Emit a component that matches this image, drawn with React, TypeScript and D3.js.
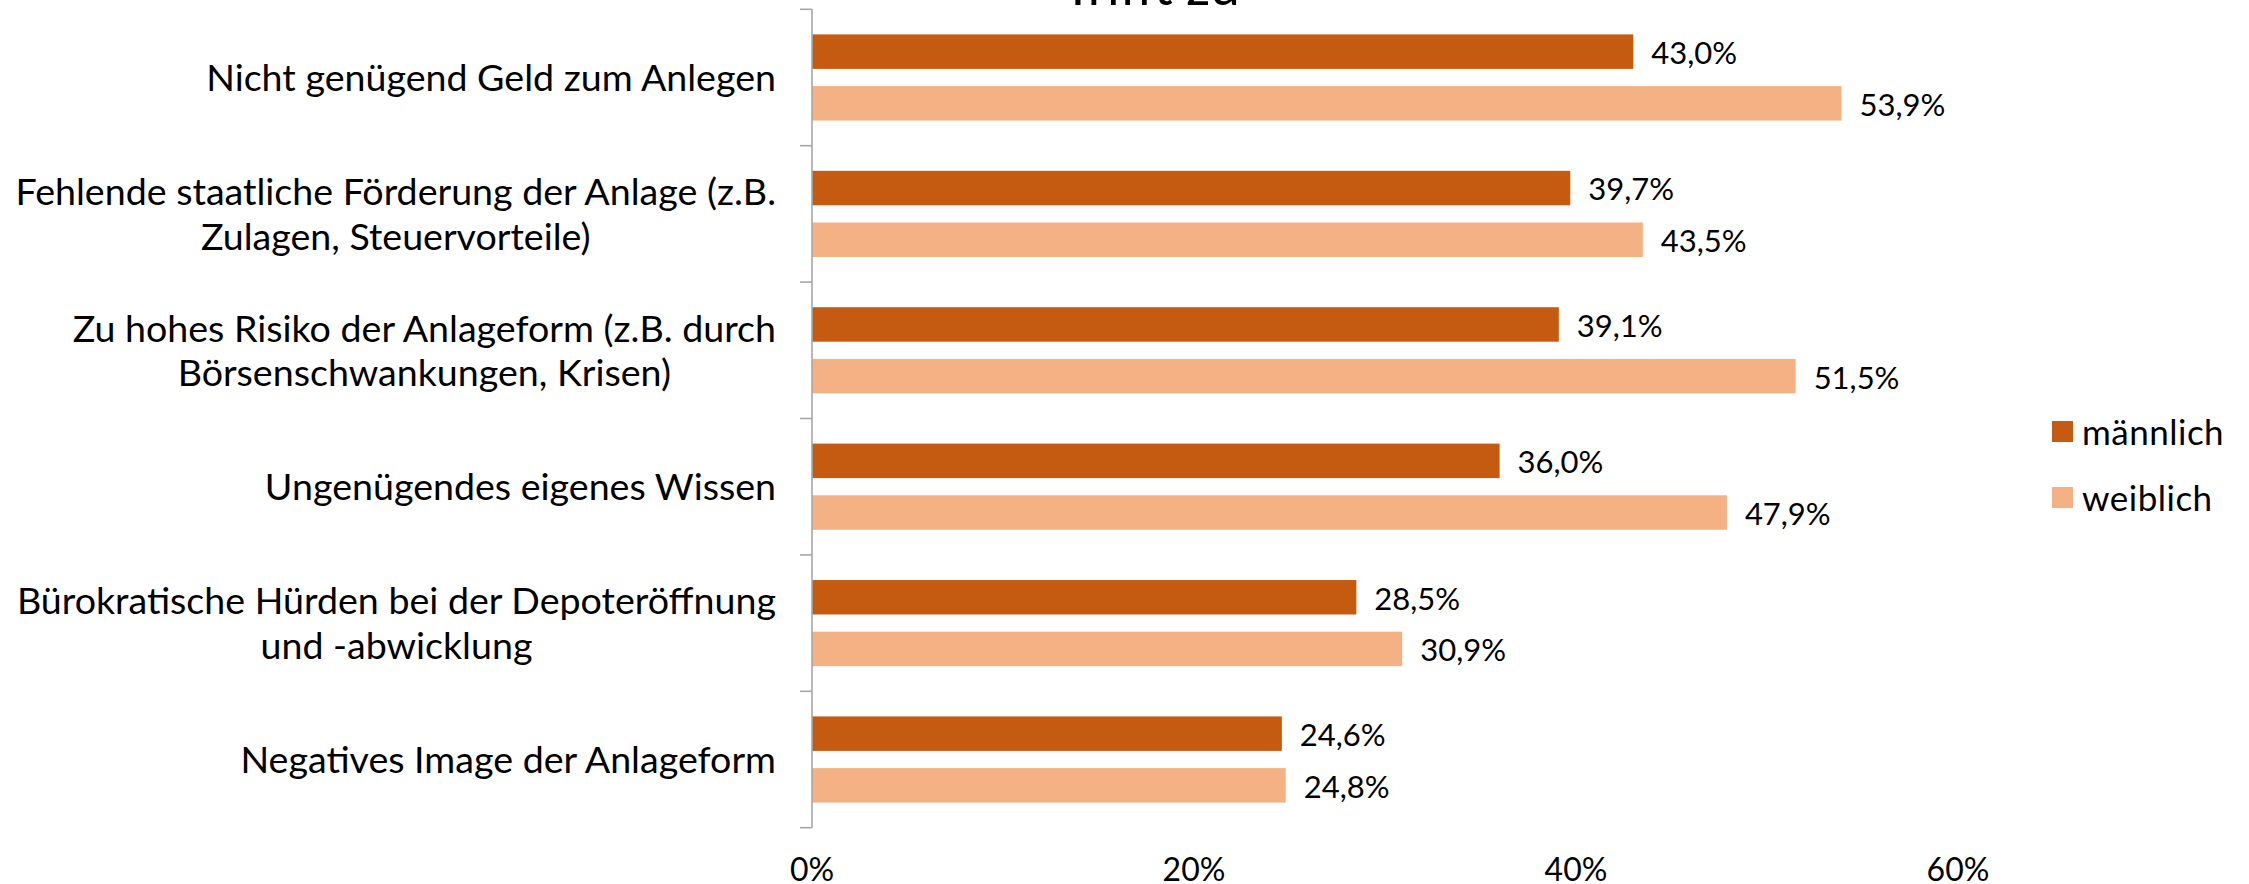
import * as d3 from "d3"
import { useEffect, useRef } from "react"

// chart data
const categories = [
	["Nicht genügend Geld zum Anlegen"],
	["Fehlende staatliche Förderung der Anlage (z.B.", "Zulagen, Steuervorteile)"],
	["Zu hohes Risiko der Anlageform (z.B. durch", "Börsenschwankungen, Krisen)"],
	["Ungenügendes eigenes Wissen"],
	["Bürokratische Hürden bei der Depoteröffnung", "und -abwicklung"],
	["Negatives Image der Anlageform"],
]
const maennlich = [43.0, 39.7, 39.1, 36.0, 28.5, 24.6]
const weiblich = [53.9, 43.5, 51.5, 47.9, 30.9, 24.8]
const seriesNames = ["männlich", "weiblich"]
const xTicks = [0, 20, 40, 60]
const title = "Trifft zu"

const colors = ["#C55A11", "#F4B183"]
const font = "Lato, 'Open Sans', sans-serif"

export default function App() {
	const svgRef = useRef<SVGSVGElement>(null)

	useEffect(() => {
		const svg = d3.select(svgRef.current)
		svg.selectAll("*").remove()

		const width = 2249
		const height = 884
		const axisX = 812

		const x = d3.scaleLinear().domain([0, 60]).range([axisX, 1958])
		const keys = categories.map((c, i) => String(i))
		const y = d3.scaleBand().domain(keys).range([9.3, 827.7]).padding(0)
		const ySub = d3.scaleBand().domain(["0", "1"]).range([0, y.bandwidth()])
			.paddingInner(0.333).paddingOuter(0.486)

		svg.attr("width", width).attr("height", height)

		// title (cut off at the top)
		svg.append("text")
			.attr("x", 1151)
			.attr("y", 5)
			.attr("text-anchor", "middle")
			.style("font-family", font)
			.style("font-size", "53px")
			.text(title)

		// bars
		const series = [maennlich, weiblich]
		series.forEach((vals, s) => {
			const g = svg.append("g")
			g.selectAll("rect")
				.data(vals)
				.enter()
				.append("rect")
				.attr("x", x(0))
				.attr("y", (d, i) => y(String(i)) + ySub(String(s)))
				.attr("width", d => x(d) - x(0))
				.attr("height", ySub.bandwidth())
				.attr("fill", colors[s])

			g.selectAll("text")
				.data(vals)
				.enter()
				.append("text")
				.attr("x", d => x(d) + 18)
				.attr("y", (d, i) => y(String(i)) + ySub(String(s)) + ySub.bandwidth() / 2)
				.attr("dy", "0.4em")
				.style("font-family", font)
				.style("font-size", "31px")
				.attr("fill", "#000")
				.text(d => d.toFixed(1).replace(".", ",") + "%")
		})

		// y axis line and ticks
		const axis = svg.append("g").attr("stroke", "#A6A6A6").attr("stroke-width", 1.6)
		axis.append("line")
			.attr("x1", axisX).attr("x2", axisX)
			.attr("y1", y.range()[0]).attr("y2", y.range()[1])
		const bounds = keys.map(k => y(k)).concat([y.range()[1]])
		axis.selectAll(".tick")
			.data(bounds)
			.enter()
			.append("line")
			.attr("x1", axisX - 12).attr("x2", axisX)
			.attr("y1", d => d).attr("y2", d => d)

		// category labels, lines centered inside a right aligned block
		const labelRight = 776
		const lineH = 44.5
		categories.forEach((lines, i) => {
			const cy = y(String(i)) + y.bandwidth() / 2
			const t = svg.append("text")
				.style("font-family", font)
				.style("font-size", "37.6px")
				.attr("text-anchor", "middle")
			const spans = lines.map((line, j) =>
				t.append("tspan")
					.attr("y", cy + (j - (lines.length - 1) / 2) * lineH)
					.attr("dy", "0.36em")
					.text(line)
			)
			const maxW = d3.max(spans, sp => (sp.node() as SVGTextContentElement).getComputedTextLength()) || 0
			spans.forEach(sp => sp.attr("x", labelRight - maxW / 2))
		})

		// x tick labels (cut at the bottom)
		svg.append("g")
			.selectAll("text")
			.data(xTicks)
			.enter()
			.append("text")
			.attr("x", d => x(d))
			.attr("y", 881)
			.attr("text-anchor", "middle")
			.style("font-family", font)
			.style("font-size", "32px")
			.text(d => d + "%")

		// legend
		const legend = svg.append("g")
		seriesNames.forEach((name, i) => {
			legend.append("rect")
				.attr("x", 2052)
				.attr("y", 421 + i * 66)
				.attr("width", 21)
				.attr("height", 21)
				.attr("fill", colors[i])
			legend.append("text")
				.attr("x", 2082)
				.attr("y", 445 + i * 66)
				.style("font-family", font)
				.style("font-size", "35px")
				.style("letter-spacing", "0.5px")
				.text(name)
		})
	}, [])

	return (
		<svg
			ref={svgRef}
			style={{ position: "absolute", left: 0, top: 0, background: "#fff" }}
		/>
	)
}
